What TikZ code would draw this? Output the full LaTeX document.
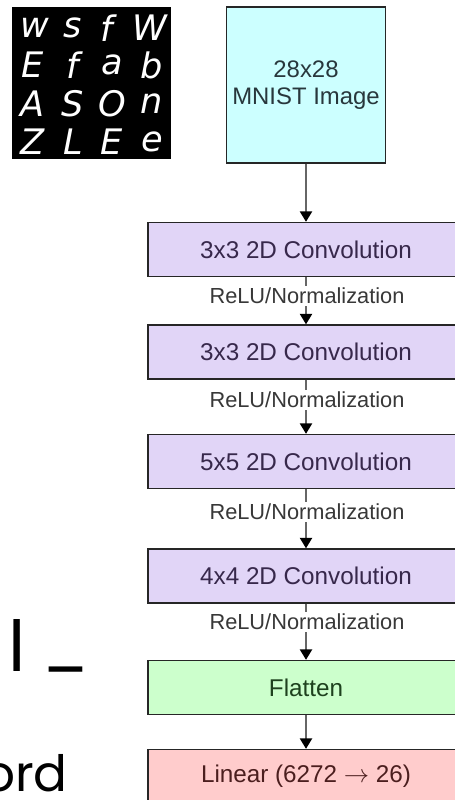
\documentclass[tikz,border=0pt]{standalone}
\usepackage{fontspec}
\setmainfont{Liberation Sans}
\newfontfamily\slidefont{Poppins}
\newfontfamily\handfont{DejaVu Sans}
\usepackage{xcolor}
\usetikzlibrary{arrows.meta}

\definecolor{imgfill}{HTML}{CCFFFF}
\definecolor{convfill}{HTML}{E1D5F7}
\definecolor{flatfill}{HTML}{CCFFCC}
\definecolor{linfill}{HTML}{FFCCCC}

\tikzset{
  layer/.style={draw=black!85, line width=0.8pt, minimum width=6.32cm, minimum height=1.08cm,
    inner sep=0pt, font=\fontsize{13.8}{15}\selectfont},
  convbox/.style={layer, fill=convfill, text={rgb,255:red,55;green,40;blue,75}},
  relulabel/.style={fill=white, inner sep=1pt, text=black!78, font=\fontsize{12.4}{14}\selectfont},
  flow/.style={draw=black!60, line width=1pt, -{Triangle[length=6pt,width=7pt,color=black]}},
  glyph/.style={text=white, font=\handfont\itshape\fontsize{20}{20}\selectfont},
}

\begin{document}
\begin{tikzpicture}[x=0.02cm, y=-0.02cm]
    \useasboundingbox (0,0) rectangle (455,800);
    \clip (0,0) rectangle (455,800);

    % sample grid
    \fill[black] (12,7) rectangle (171,159);
    \node[glyph] (g11) at (35,28) {w};
    \node[glyph] (g12) at (73,28) {s};
    \node[glyph] (g13) at (107,28) {f};
    \node[glyph] (g14) at (150,28) {W};
    \node[glyph] (g21) at (33,65) {E};
    \node[glyph] (g22) at (73,65) {f};
    \node[glyph] (g23) at (112,65) {a};
    \node[glyph] (g24) at (152,65) {b};
    \node[glyph] (g31) at (33,104) {A};
    \node[glyph] (g32) at (73,104) {S};
    \node[glyph] (g33) at (112,104) {O};
    \node[glyph] (g34) at (152,104) {n};
    \node[glyph] (g41) at (33,142) {Z};
    \node[glyph] (g42) at (73,142) {L};
    \node[glyph] (g43) at (112,142) {E};
    \node[glyph] (g44) at (152,142) {e};

    % network
    \node[draw=black!85, line width=0.8pt, fill=imgfill, minimum width=3.16cm, minimum height=3.12cm,
      align=center, text={rgb,255:red,40;green,55;blue,60}, font=\fontsize{13.6}{15}\selectfont]
      (img) at (306,85) {28x28\\MNIST Image};
    \node[convbox] (conv1) at (306,249.5) {3x3 2D Convolution};
    \node[convbox] (conv2) at (306,352) {3x3 2D Convolution};
    \node[convbox] (conv3) at (306,461.5) {5x5 2D Convolution};
    \node[convbox] (conv4) at (306,576) {4x4 2D Convolution};
    \node[layer, fill=flatfill, text={rgb,255:red,30;green,65;blue,30}] (flat) at (306,687.5) {Flatten};
    \node[layer, fill=linfill, text={rgb,255:red,75;green,30;blue,30}] (lin) at (306,776.5) {Linear (6272 $\rightarrow$ 26)};

    \draw[flow] (img) -- (conv1);
    \draw[flow] (conv1) -- (conv2);
    \draw[flow] (conv2) -- (conv3);
    \draw[flow] (conv3) -- (conv4);
    \draw[flow] (conv4) -- (flat);
    \draw[flow] (flat) -- (lin);

    \node[relulabel] (relu1) at (307,296) {ReLU/Normalization};
    \node[relulabel] (relu2) at (307,400) {ReLU/Normalization};
    \node[relulabel] (relu3) at (307,512) {ReLU/Normalization};
    \node[relulabel] (relu4) at (307,622) {ReLU/Normalization};

    % slide text cut at the edge
    \node[anchor=base west, inner sep=0pt, font=\slidefont\fontsize{40}{40}\selectfont] (tailA) at (8,671) {l};
    \node[anchor=base west, inner sep=0pt, font=\slidefont\fontsize{36}{36}\selectfont] (tailU) at (42,664) {\_};
    \node[anchor=base east, inner sep=0pt, font=\slidefont\fontsize{28.5}{30}\selectfont] (tailB) at (68,791) {ord};
\end{tikzpicture}
\end{document}
